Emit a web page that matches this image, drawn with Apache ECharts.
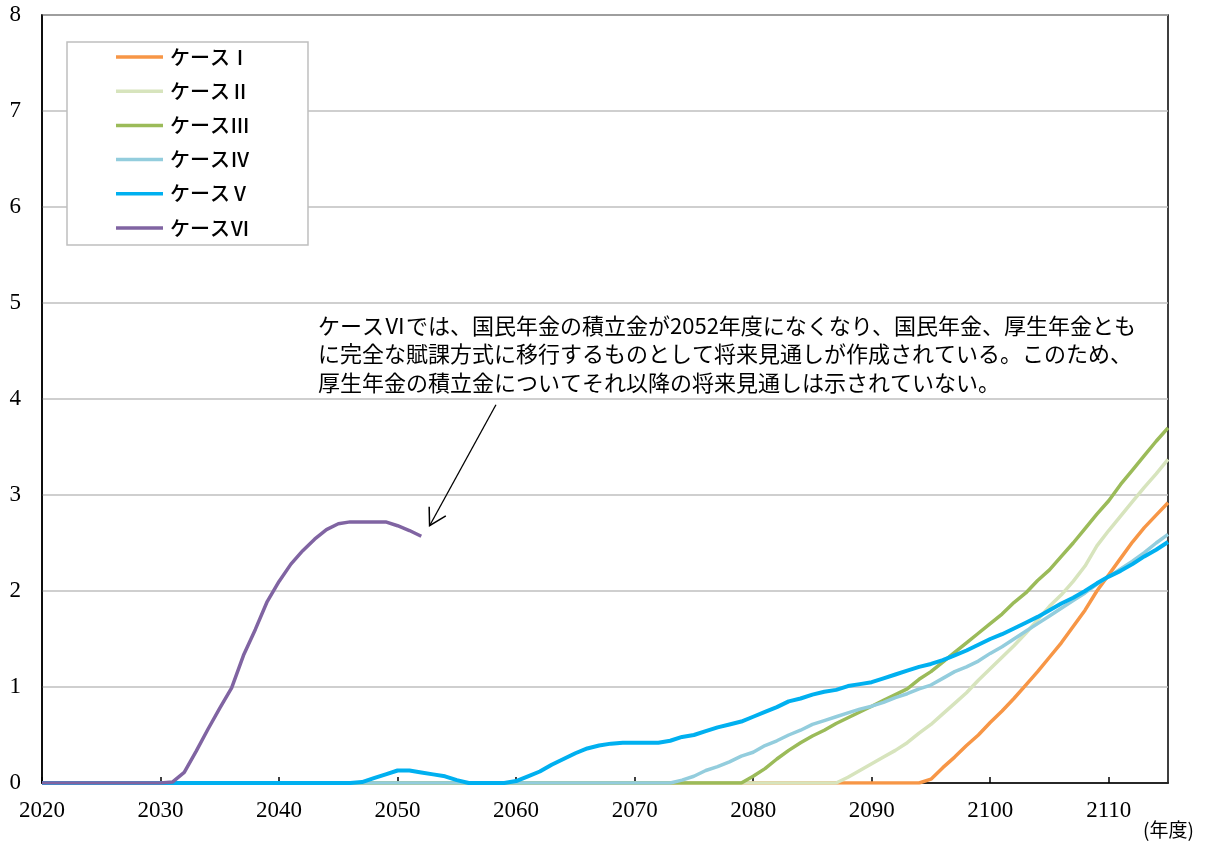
<!DOCTYPE html>
<html><head><meta charset="utf-8">
<script src="https://cdn.jsdelivr.net/npm/echarts@6/dist/echarts.min.js"></script>
<style>html,body{margin:0;padding:0;background:#fff}#c{width:1208px;height:844px}</style>
</head><body><div id="c"></div>
<script>
const startYear = 2020;
const endYear = 2115;
const yTicks = [0, 1, 2, 3, 4, 5, 6, 7, 8];
const seriesNames = ['ケースⅠ', 'ケースⅡ', 'ケースⅢ', 'ケースⅣ', 'ケースⅤ', 'ケースⅥ'];
const seriesColors = ['#F79646', '#D7E4BD', '#9BBB59', '#93CDDD', '#00B0F0', '#8064A2'];

// values by year, starting 2020
const caseI = [
  0,0,0,0,0,0,0,0,0,0,
  0,0,0,0,0,0,0,0,0,0,
  0,0,0,0,0,0,0,0,0,0,
  0,0,0,0,0,0,0,0,0,0,
  0,0,0,0,0,0,0,0,0,0,
  0,0,0,0,0,0,0,0,0,0,
  0,0,0,0,0,0,0,0,0,0,
  0,0,0,0,0,0.04,0.16,0.27,0.39,0.50,
  0.63,0.75,0.88,1.02,1.16,1.31,1.46,1.63,1.80,2.00,
  2.17,2.34,2.51,2.66,2.79,2.92
];
const caseII = [
  0,0,0,0,0,0,0,0,0,0,
  0,0,0,0,0,0,0,0,0,0,
  0,0,0,0,0,0,0,0,0,0,
  0,0,0,0,0,0,0,0,0,0,
  0,0,0,0,0,0,0,0,0,0,
  0,0,0,0,0,0,0,0,0,0,
  0,0,0,0,0,0,0,0,0.06,0.13,
  0.20,0.27,0.34,0.42,0.52,0.61,0.72,0.83,0.94,1.07,
  1.19,1.31,1.43,1.56,1.70,1.84,1.96,2.10,2.26,2.47,
  2.63,2.78,2.93,3.08,3.22,3.37
];
const caseIII = [
  0,0,0,0,0,0,0,0,0,0,
  0,0,0,0,0,0,0,0,0,0,
  0,0,0,0,0,0,0,0,0,0,
  0,0,0,0,0,0,0,0,0,0,
  0,0,0,0,0,0,0,0,0,0,
  0,0,0,0,0,0,0,0,0,0,
  0.07,0.15,0.25,0.34,0.42,0.49,0.55,0.62,0.68,0.74,
  0.80,0.86,0.92,0.98,1.08,1.16,1.26,1.36,1.46,1.56,
  1.66,1.76,1.88,1.98,2.11,2.22,2.36,2.50,2.65,2.80,
  2.94,3.11,3.26,3.41,3.56,3.70
];
const caseIV = [
  0,0,0,0,0,0,0,0,0,0,
  0,0,0,0,0,0,0,0,0,0,
  0,0,0,0,0,0,0,0,0,0,
  0,0,0,0,0,0,0,0,0,0,
  0,0,0,0,0,0,0,0,0,0,
  0,0,0,0,0.03,0.07,0.13,0.17,0.22,0.28,
  0.32,0.39,0.44,0.50,0.55,0.61,0.65,0.69,0.73,0.77,
  0.80,0.84,0.89,0.93,0.98,1.02,1.09,1.16,1.21,1.27,
  1.35,1.42,1.50,1.58,1.66,1.74,1.82,1.90,1.98,2.07,
  2.15,2.23,2.31,2.40,2.50,2.59
];
const caseV = [
  0,0,0,0,0,0,0,0,0,0,
  0,0,0,0,0,0,0,0,0,0,
  0,0,0,0,0,0,0,0.01,0.05,0.09,
  0.13,0.13,0.11,0.09,0.07,0.03,0,0,0,0,
  0.02,0.07,0.12,0.19,0.25,0.31,0.36,0.39,0.41,0.42,
  0.42,0.42,0.42,0.44,0.48,0.50,0.54,0.58,0.61,0.64,
  0.69,0.74,0.79,0.85,0.88,0.92,0.95,0.97,1.01,1.03,
  1.05,1.09,1.13,1.17,1.21,1.24,1.28,1.33,1.38,1.44,
  1.50,1.55,1.61,1.67,1.73,1.80,1.87,1.93,2.00,2.08,
  2.15,2.21,2.28,2.36,2.43,2.51
];
const caseVI = [
  0,0,0,0,0,0,0,0,0,0,
  0,0.01,0.11,0.33,0.56,0.78,0.99,1.33,1.60,1.89,
  2.10,2.28,2.42,2.54,2.64,2.70,2.72,2.72,2.72,2.72,
  2.68,2.63,2.57
];
const allCases = [caseI, caseII, caseIII, caseIV, caseV, caseVI];

const noteLines = [
  'ケースⅥでは、国民年金の積立金が2052年度になくなり、国民年金、厚生年金とも',
  'に完全な賦課方式に移行するものとして将来見通しが作成されている。このため、',
  '厚生年金の積立金についてそれ以降の将来見通しは示されていない。'
];
const arrowFrom = [2058.3, 3.94];
const arrowTo = [2052.7, 2.68];
const unitLabel = '(年度)';

const jp = "'Noto Sans CJK JP', sans-serif";
const num = "'Liberation Serif', 'Noto Sans CJK JP', serif";

const chart = echarts.init(document.getElementById('c'), null, {renderer: 'canvas'});

const series = allCases.map((vals, si) => ({
  name: seriesNames[si],
  type: 'line',
  data: vals.map((v, i) => [startYear + i, v]),
  symbol: 'none',
  showSymbol: false,
  smooth: false,
  animation: false,
  lineStyle: {color: seriesColors[si], width: si === 4 ? 4 : 3.5},
  itemStyle: {color: seriesColors[si]}
}));

chart.setOption({
  animation: false,
  backgroundColor: '#fff',
  grid: {left: 42, right: 40, top: 15, bottom: 61, show: true, borderColor: '#000', borderWidth: 1.5, backgroundColor: 'transparent'},
  xAxis: {
    type: 'value', min: startYear, max: endYear, interval: 10,
    axisLine: {lineStyle: {color: '#000', width: 1.5}},
    axisTick: {show: true, inside: true, length: 6, lineStyle: {color: '#000', width: 1.5}},
    splitLine: {show: false},
    axisLabel: {color: '#000', fontSize: 23, fontFamily: num, margin: 16, showMaxLabel: false, formatter: v => String(v)}
  },
  yAxis: {
    type: 'value', min: yTicks[0], max: yTicks[yTicks.length - 1], interval: 1,
    axisLine: {show: true, lineStyle: {color: '#000', width: 1.5}},
    axisTick: {show: false},
    splitLine: {show: true, lineStyle: {color: '#BFBFBF', width: 1.5}},
    axisLabel: {color: '#000', fontSize: 23, fontFamily: num, margin: 21}
  },
  legend: {
    data: seriesNames.map(n => ({name: n, icon: 'rect'})),
    orient: 'vertical',
    left: 67, top: 42,
    itemWidth: 47, itemHeight: 3.5, itemGap: 14.2,
    padding: [5, 58, 7, 49],
    backgroundColor: '#fff',
    borderColor: '#BFBFBF', borderWidth: 1.5,
    textStyle: {color: '#000', fontSize: 20, lineHeight: 20, fontFamily: jp, fontWeight: 500, padding: [0, 0, 0, 2]},
    selectedMode: false
  },
  series: series
});

const p0 = chart.convertToPixel({gridIndex: 0}, arrowFrom);
const p1 = chart.convertToPixel({gridIndex: 0}, arrowTo);
const dx = p0[0] - p1[0], dy = p0[1] - p1[1];
const len = Math.sqrt(dx * dx + dy * dy);
const ux = dx / len, uy = dy / len;
const headLen = 19, ang = Math.PI / 6;
function rot(x, y, a) { return [x * Math.cos(a) - y * Math.sin(a), x * Math.sin(a) + y * Math.cos(a)]; }
const a1 = rot(ux, uy, ang), a2 = rot(ux, uy, -ang);

chart.setOption({
  graphic: [
    {type: 'text', left: 318, top: 311, z: 10, silent: true,
     style: {text: noteLines.join('\n'), font: "22px " + jp, fill: '#000', lineHeight: 28.5}},
    {type: 'line', z: 10, silent: true,
     shape: {x1: p0[0], y1: p0[1], x2: p1[0], y2: p1[1]},
     style: {stroke: '#000', lineWidth: 1.3}},
    {type: 'polyline', z: 10, silent: true,
     shape: {points: [[p1[0] + a1[0] * headLen, p1[1] + a1[1] * headLen], [p1[0], p1[1]], [p1[0] + a2[0] * headLen, p1[1] + a2[1] * headLen]]},
     style: {stroke: '#000', lineWidth: 1.5, fill: null}},
    {type: 'text', left: 1143, top: 820, z: 10, silent: true,
     style: {text: unitLabel, font: "19px " + jp, fill: '#000'}}
  ]
});
</script></body></html>
